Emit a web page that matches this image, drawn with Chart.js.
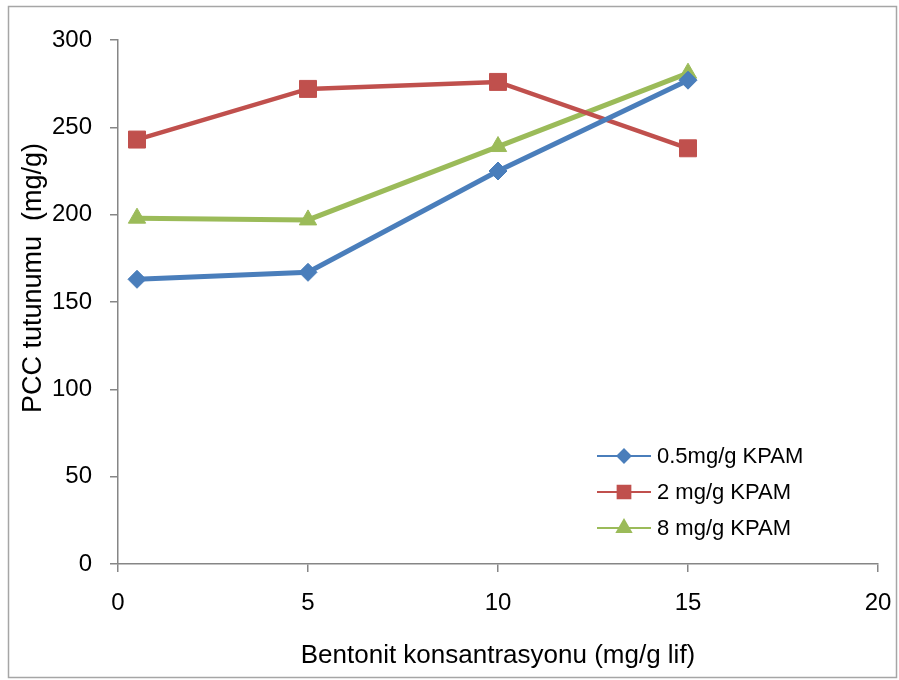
<!DOCTYPE html>
<html>
<head>
<meta charset="utf-8">
<title>PCC tutunumu</title>
<script src="https://cdn.jsdelivr.net/npm/chart.js@4.4.1/dist/chart.umd.min.js"></script>
<style>
  html, body { margin: 0; padding: 0; background: #fff; }
  #wrap { width: 899px; height: 680px; position: relative; }
</style>
</head>
<body>
<div id="wrap"><canvas id="lineChart"></canvas></div>
<script>
// bentonite dose (mg/g fibre) and PCC retention (mg/g) per KPAM dose
var bentonit = [0.5, 5, 10, 15];
var kpam05 = [163, 167, 225, 277];
var kpam2 = [243, 272, 276, 238];
var kpam8 = [198, 197, 239, 281];
var seriesNames = ["0.5mg/g KPAM", "2 mg/g KPAM", "8 mg/g KPAM"];
var xTicks = [0, 5, 10, 15, 20];
var yTicks = [0, 50, 100, 150, 200, 250, 300];

var axisGray = '#868686';
Chart.defaults.font.family = "'Liberation Sans', Arial, sans-serif";
Chart.defaults.color = '#000';

function toPoints(ys) {
  return bentonit.map(function (x, i) { return { x: x, y: ys[i] }; });
}

// grey frame round the whole chart
var frame = {
  id: 'frame',
  beforeDraw: function (chart) {
    var ctx = chart.ctx;
    ctx.save();
    ctx.fillStyle = '#fff';
    ctx.fillRect(0, 0, chart.width, chart.height);
    ctx.strokeStyle = '#a6a6a6';
    ctx.lineWidth = 1.5;
    ctx.strokeRect(8.5, 6.5, chart.width - 11, chart.height - 9);
    ctx.restore();
  }
};

// y title sits a bit above the middle of the axis
var yTitle = {
  id: 'yTitle',
  afterDraw: function (chart) {
    var ctx = chart.ctx;
    ctx.save();
    ctx.translate(34, 278);
    ctx.rotate(-Math.PI / 2);
    ctx.font = "27px 'Liberation Sans', Arial, sans-serif";
    ctx.fillStyle = '#000';
    ctx.textAlign = 'center';
    ctx.textBaseline = 'middle';
    ctx.fillText('PCC tutunumu  (mg/g)', 0, 0);
    ctx.restore();
  }
};

// legend inside the plot, line sample with the marker on it
var legendBox = {
  id: 'legendBox',
  afterDraw: function (chart) {
    var ctx = chart.ctx;
    var rows = [456, 492, 528];
    var sizes = [6.5, 9, 8];
    ctx.save();
    chart.data.datasets.forEach(function (ds, i) {
      var y = rows[i];
      ctx.strokeStyle = ds.borderColor;
      ctx.lineWidth = 2;
      ctx.beginPath();
      ctx.moveTo(597, y);
      ctx.lineTo(651, y);
      ctx.stroke();
      ctx.fillStyle = ds.borderColor;
      ctx.strokeStyle = ds.borderColor;
      Chart.helpers.drawPoint(ctx, {
        pointStyle: ds.pointStyle, radius: sizes[i], borderWidth: 1, rotation: 0
      }, 624, y);
      ctx.fillStyle = '#000';
      ctx.font = "22px 'Liberation Sans', Arial, sans-serif";
      ctx.textAlign = 'left';
      ctx.textBaseline = 'middle';
      ctx.fillText(ds.label, 657, y + 1);
    });
    ctx.restore();
  }
};

var ctxL = document.getElementById('lineChart').getContext('2d');
var myLineChart = new Chart(ctxL, {
  type: 'line',
  data: {
    datasets: [{
      label: seriesNames[0],
      data: toPoints(kpam05),
      borderColor: '#4a7ebb',
      backgroundColor: '#4a7ebb',
      borderWidth: 5,
      pointStyle: 'rectRot',
      pointRadius: 9,
      pointBorderWidth: 1
    }, {
      label: seriesNames[1],
      data: toPoints(kpam2),
      borderColor: '#c0504d',
      backgroundColor: '#c0504d',
      borderWidth: 4.5,
      pointStyle: 'rect',
      pointRadius: 12,
      pointBorderWidth: 1
    }, {
      label: seriesNames[2],
      data: toPoints(kpam8),
      borderColor: '#9bbb59',
      backgroundColor: '#9bbb59',
      borderWidth: 5,
      pointStyle: 'triangle',
      pointRadius: 10,
      pointBorderWidth: 1
    }]
  },
  options: {
    responsive: true,
    maintainAspectRatio: false,
    animation: false,
    tension: 0,
    layout: { padding: { top: 40, right: 21, left: 0, bottom: 0 } },
    plugins: {
      legend: { display: false },
      tooltip: { enabled: false }
    },
    scales: {
      x: {
        type: 'linear',
        min: xTicks[0],
        max: xTicks[xTicks.length - 1],
        afterBuildTicks: function (axis) {
          axis.ticks = xTicks.map(function (v) { return { value: v }; });
        },
        grid: { drawOnChartArea: false, tickLength: 8, color: axisGray, lineWidth: 1.5 },
        border: { color: axisGray, width: 1.5 },
        ticks: { font: { size: 24 }, padding: 17, maxRotation: 0 },
        title: {
          display: true,
          text: 'Bentonit konsantrasyonu (mg/g lif)',
          font: { size: 26 },
          padding: { top: 0, bottom: 9 }
        },
        afterFit: function (axis) {
          axis.height = 116;
          axis.paddingLeft = 0;
          axis.paddingRight = 0;
        }
      },
      y: {
        min: yTicks[0],
        max: yTicks[yTicks.length - 1],
        afterBuildTicks: function (axis) {
          axis.ticks = yTicks.map(function (v) { return { value: v }; });
        },
        grid: { drawOnChartArea: false, tickLength: 8, color: axisGray, lineWidth: 1.5 },
        border: { color: axisGray, width: 1.5 },
        ticks: { font: { size: 24 }, padding: 18 },
        afterFit: function (axis) {
          axis.width = 118;
          axis.paddingTop = 0;
          axis.paddingBottom = 0;
        }
      }
    }
  },
  plugins: [frame, yTitle, legendBox]
});
</script>
</body>
</html>
